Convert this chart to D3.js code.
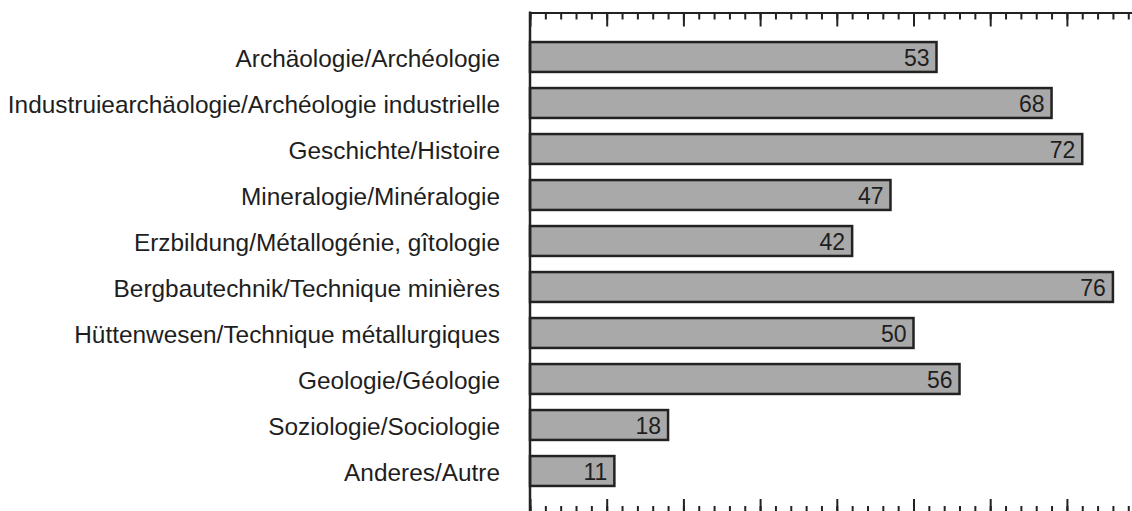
<!DOCTYPE html>
<html>
<head>
<meta charset="utf-8">
<script src="https://cdn.jsdelivr.net/npm/d3@7"></script>
<style>
  html, body { margin: 0; padding: 0; background: #fff; }
  svg { display: block; font-family: "Liberation Sans", Arial, sans-serif; }
  .axis path, .axis line { stroke: #222; stroke-width: 2; }
</style>
</head>
<body>
<div id="chart"></div>
<script>
// chart data
const categories = [
  "Archäologie/Archéologie",
  "Industruiearchäologie/Archéologie industrielle",
  "Geschichte/Histoire",
  "Mineralogie/Minéralogie",
  "Erzbildung/Métallogénie, gîtologie",
  "Bergbautechnik/Technique minières",
  "Hüttenwesen/Technique métallurgiques",
  "Geologie/Géologie",
  "Soziologie/Sociologie",
  "Anderes/Autre"
];
const values = [53, 68, 72, 47, 42, 76, 50, 56, 18, 11];
const majorTicks = [0, 10, 20, 30, 40, 50, 60, 70, 80];
const minorTicks = d3.range(0, 81, 2);

const width = 1132, height = 511;
const margin = { left: 530, top: 12.5, bottom: 513 };

const svg = d3.select('#chart').append('svg')
  .attr('width', width)
  .attr('height', height);

// scales
const x = d3.scaleLinear().domain([0, 80]).range([margin.left, margin.left + 80 * 7.67]);
const y = d3.scaleBand().domain(categories).range([34, 494])
  .paddingInner(0.35).paddingOuter(0.175);

// top axis, ticks pointing down
svg.append('g').attr('class', 'axis')
  .attr('transform', 'translate(0,' + margin.top + ')')
  .call(d3.axisTop(x).tickValues(minorTicks).tickSizeInner(-7).tickSizeOuter(0).tickFormat(''));
svg.append('g').attr('class', 'axis')
  .attr('transform', 'translate(0,' + margin.top + ')')
  .call(d3.axisTop(x).tickValues(majorTicks).tickSizeInner(-14).tickSizeOuter(0).tickFormat(''))
  .select('.domain').remove();

// bottom axis, ticks pointing up
svg.append('g').attr('class', 'axis')
  .attr('transform', 'translate(0,' + margin.bottom + ')')
  .call(d3.axisBottom(x).tickValues(minorTicks).tickSizeInner(-7).tickSizeOuter(0).tickFormat(''));
svg.append('g').attr('class', 'axis')
  .attr('transform', 'translate(0,' + margin.bottom + ')')
  .call(d3.axisBottom(x).tickValues(majorTicks).tickSizeInner(-14).tickSizeOuter(0).tickFormat(''))
  .select('.domain').remove();

// category labels
const yAxis = svg.append('g')
  .attr('transform', 'translate(' + margin.left + ',0)')
  .call(d3.axisLeft(y).tickSize(0).tickPadding(30));
yAxis.select('.domain').remove();
yAxis.selectAll('text')
  .attr('font-size', 24.4)
  .attr('font-family', '"Liberation Sans", Arial, sans-serif')
  .attr('fill', '#1e1e1e')
  .attr('dy', '0.4em');

// bars
svg.append('g').selectAll('rect')
  .data(values)
  .join('rect')
  .attr('x', x(0))
  .attr('y', (d, i) => y(categories[i]))
  .attr('width', d => x(d) - x(0))
  .attr('height', y.bandwidth())
  .attr('fill', '#a9a9a9')
  .attr('stroke', '#222')
  .attr('stroke-width', 2.5);

// value labels
svg.append('g').selectAll('text')
  .data(values)
  .join('text')
  .attr('x', d => x(d) - 7)
  .attr('y', (d, i) => y(categories[i]) + y.bandwidth() / 2)
  .attr('dy', '0.37em')
  .attr('text-anchor', 'end')
  .attr('font-size', 23)
  .attr('fill', '#1e1e1e')
  .text(d => d);

// left axis line
svg.append('line')
  .attr('x1', x(0)).attr('x2', x(0))
  .attr('y1', margin.top - 1).attr('y2', margin.bottom)
  .attr('stroke', '#222')
  .attr('stroke-width', 2.5);
</script>
</body>
</html>
